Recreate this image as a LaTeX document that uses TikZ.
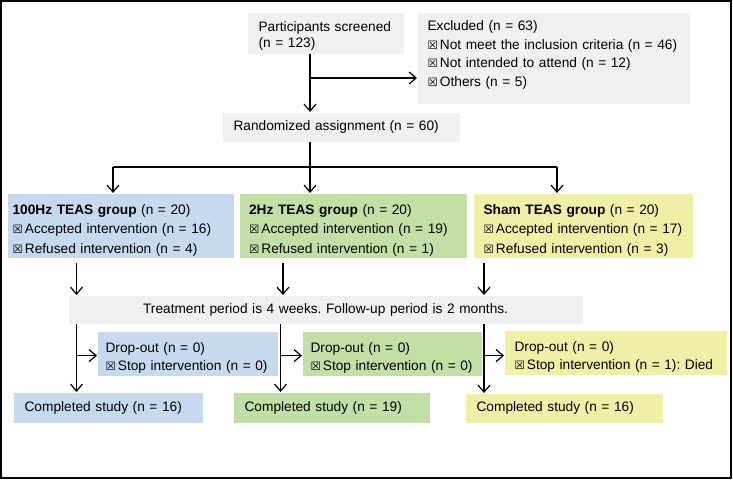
\documentclass[tikz,border=0pt]{standalone}
\usepackage{fontspec}
\setmainfont{Liberation Sans}
\newfontfamily\ballotfont{DejaVu Sans}
\usepackage{tikz}
\usetikzlibrary{positioning, calc, arrows.meta}
\frenchspacing

\definecolor{boxgrey}{HTML}{F0F0F0}
\definecolor{boxblue}{HTML}{C6D9EE}
\definecolor{boxgreen}{HTML}{C2DFA5}
\definecolor{boxyellow}{HTML}{EFEFA6}

\newcommand{\crossbox}{{\ballotfont\fontsize{11.5}{11.5}\selectfont ☒}\hspace{2pt}}
\newcommand{\lowerby}[1]{\rule{0pt}{#1}}

\begin{document}
\begin{tikzpicture}[x=1pt, y=-1pt, ->, >={Straight Barb[length=7pt,width=12pt]}, line width=1.2pt]
    \tikzstyle{every node}=[font=\fontsize{13.7}{18.5}\selectfont]
    \tikzstyle{box}=[rectangle, anchor=north west, inner xsep=11pt, inner ysep=0pt, align=left]
    \tikzstyle{group}=[box, minimum height=64pt, font=\fontsize{13.7}{19.5}\selectfont]
    \tikzstyle{drop}=[box, minimum height=44pt, inner xsep=8pt, font=\fontsize{13.7}{18}\selectfont]
    \tikzstyle{done}=[box, minimum height=30pt]

    \useasboundingbox (0,0) rectangle (733,480);
    % Outer frame
    \draw[-, line width=1.5pt] (1,1) rectangle (731,478);

    % Screening
    \node[box, fill=boxgrey, text width=134pt, minimum height=41pt, font=\fontsize{13.7}{16.3}\selectfont] (screen) at (247,12) {\lowerby{15pt}Participants screened\\(n = 123)};
    \node[box, fill=boxgrey, text width=252pt, inner xsep=10pt, minimum height=91pt] (excl) at (417,12) {Excluded (n = 63)\\\crossbox Not meet the inclusion criteria (n = 46)\\\crossbox Not intended to attend (n = 12)\\\crossbox Others (n = 5)\rule[-9pt]{0pt}{9pt}};
    \node[box, fill=boxgrey, text width=215pt, minimum height=29pt] (random) at (222,112) {Randomized assignment (n = 60)};

    % Groups
    \node[group, fill=boxblue, text width=216pt, inner xsep=5pt] (hz100) at (7,193) {\lowerby{19pt}\textbf{100Hz TEAS group} (n = 20)\\\crossbox Accepted intervention (n = 16)\\\crossbox Refused intervention (n = 4)};
    \node[group, fill=boxgreen, text width=208pt, inner xsep=9.5pt] (hz2) at (239,193) {\lowerby{19pt}\textbf{2Hz TEAS group} (n = 20)\\\crossbox Accepted intervention (n = 19)\\\crossbox Refused intervention (n = 1)};
    \node[group, fill=boxyellow, text width=199pt, inner xsep=10pt] (sham) at (473,193) {\lowerby{19pt}\textbf{Sham TEAS group} (n = 20)\\\crossbox Accepted intervention (n = 17)\\\crossbox Refused intervention (n = 3)};

    % Treatment
    \node[box, fill=boxgrey, text width=492pt, minimum height=28pt, align=center] (treat) at (68,295) {Treatment period is 4 weeks. Follow-up period is 2 months.};

    % Drop-outs
    \node[drop, fill=boxblue, text width=164pt] (drop100) at (97,331) {\lowerby{18pt}Drop-out (n = 0)\\\crossbox Stop intervention (n = 0)};
    \node[drop, fill=boxgreen, text width=163pt] (drop2) at (302,331) {\lowerby{18pt}Drop-out (n = 0)\\\crossbox Stop intervention (n = 0)};
    \node[drop, fill=boxyellow, text width=202pt, inner xsep=10pt] (dropsham) at (504,330) {\lowerby{18pt}Drop-out (n = 0)\\\crossbox Stop intervention (n = 1): Died};

    % Completed
    \node[done, fill=boxblue, text width=167pt] (done100) at (13,392) {Completed study (n = 16)};
    \node[done, fill=boxgreen, text width=174pt] (done2) at (233,392) {Completed study (n = 19)};
    \node[done, fill=boxyellow, text width=175pt, minimum height=29pt] (donesham) at (465,393) {Completed study (n = 16)};

    % Columns of the connectors
    \coordinate (split) at (310,78);
    \coordinate (brA) at (113,167);
    \coordinate (brB) at (310,167);
    \coordinate (brC) at (557,167);
    \coordinate (colA) at (76.5,0);
    \coordinate (colB) at (283,0);
    \coordinate (lowB) at (280.5,0);
    \coordinate (colC) at (484,0);

    % Screening to randomization
    \draw (split |- screen.south) -- (split |- random.north);
    \draw (split) -- (split -| excl.west);

    % Randomization to groups
    \draw[-] (brB |- random.south) -- (brB);
    \draw[-] (brA) -- (brC);
    \draw (brA) -- (brA |- hz100.north);
    \draw (brB) -- (brB |- hz2.north);
    \draw (brC) -- (brC |- sham.north);

    % Groups to treatment
    \draw ($(colA |- hz100.south)+(0,5)$) -- (colA |- treat.north);
    \draw ($(colB |- hz2.south)+(0,5)$) -- (colB |- treat.north);
    \draw ($(colC |- sham.south)+(0,5)$) -- (colC |- treat.north);

    % Treatment to completion
    \draw (colA |- treat.south) -- (colA |- done100.north);
    \draw (lowB |- treat.south) -- (lowB |- done2.north);
    \draw (colC |- treat.south) -- (colC |- donesham.north);
    \draw ($(colA |- drop100.west)+(0,2)$) -- ($(drop100.west)+(0,2)$);
    \draw ($(lowB |- drop2.west)+(0,2)$) -- ($(drop2.west)+(0,2)$);
    \draw ($(colC |- dropsham.west)+(0,3)$) -- ($(dropsham.west)+(0,3)$);
\end{tikzpicture}
\end{document}
